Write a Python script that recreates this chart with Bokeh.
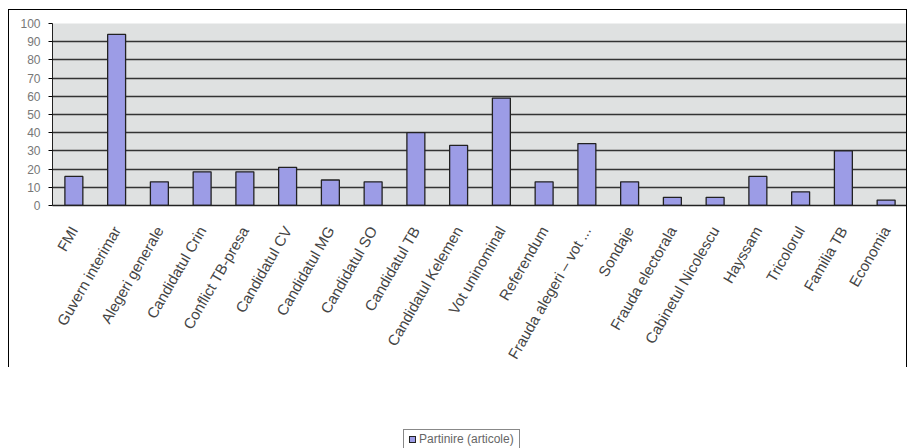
import math
from bokeh.plotting import figure
from bokeh.layouts import column
from bokeh.models import ColumnDataSource, Range1d, FixedTicker, Div
from bokeh.embed import file_html
from bokeh.resources import INLINE

categories = [
    "FMI", "Guvern interimar", "Alegeri generale", "Candidatul Crin",
    "Conflict TB-presa", "Candidatul CV", "Candidatul MG", "Candidatul SO",
    "Candidatul TB", "Candidatul Kelemen", "Vot uninominal", "Referendum",
    "Frauda alegeri – vot ...", "Sondaje", "Frauda electorala",
    "Cabinetul Nicolescu", "Hayssam", "Tricolorul", "Familia TB", "Economia",
]
values = [16, 94, 13, 18.5, 18.5, 21, 14, 13, 40, 33, 59, 13, 34, 13, 4.5, 4.5, 16, 7.5, 30, 3]
series_name = "Partinire (articole)"
y_ticks = [0, 10, 20, 30, 40, 50, 60, 70, 80, 90, 100]

bar_fill = "#9c9ce6"
bar_line = "#222222"

source = ColumnDataSource(data=dict(cat=categories, val=values))

p = figure(
    x_range=categories,
    y_range=Range1d(0, 100),
    frame_width=853, frame_height=181,
    output_backend="svg", toolbar_location=None,
    min_border_left=43, min_border_top=13, min_border_right=1, min_border_bottom=0,
    background_fill_color="#dfe1e1",
    border_fill_color="white",
    outline_line_color=None,
    styles={"border-top": "1px solid #000", "border-left": "1px solid #000",
            "border-right": "1px solid #000"},
    margin=(9, 0, 0, 8),
)

r = p.vbar(x="cat", top="val", width=0.42, source=source,
           fill_color=bar_fill, line_color=bar_line, line_width=1.3)

p.xgrid.grid_line_color = None
p.ygrid.grid_line_color = "#333333"
p.ygrid.grid_line_width = 1.4
p.ygrid.bounds = (0, 60)

p.yaxis.ticker = FixedTicker(ticks=y_ticks)
p.yaxis.minor_tick_line_color = None
p.yaxis.major_tick_in = 0
p.yaxis.major_tick_out = 4
p.yaxis.axis_line_color = "#222222"
p.yaxis.major_label_text_font = "Liberation Sans"
p.yaxis.major_label_text_font_size = "12px"
p.yaxis.major_label_text_color = "#777777"
p.yaxis.major_label_standoff = 8

p.xaxis.major_label_orientation = math.pi / 3
p.xaxis.major_label_text_font = "Liberation Sans"
p.xaxis.major_label_text_font_size = "15px"
p.xaxis.major_label_text_color = "#444444"
p.xaxis.major_tick_line_color = None
p.xaxis.axis_line_color = "#222222"
p.xaxis.axis_line_width = 1.4
p.xaxis.major_label_standoff = 16

legend_html = (
    '<div style="border:1px solid #888;background:#fff;padding:2px 5px;'
    'font-family:\'Liberation Sans\';font-size:12px;color:#666;white-space:nowrap;'
    'line-height:14px">'
    f'<span style="display:inline-block;width:7px;height:7px;background:{bar_fill};'
    f'border:1px solid {bar_line};margin-right:3px;vertical-align:middle"></span>'
    f'{series_name}</div>'
)
legend_div = Div(text=legend_html,
                 styles={"position": "absolute", "top": "424px", "left": "398px",
                         "z-index": "10"})

layout = column(p, legend_div)

open("out.html", "w").write(file_html(layout, INLINE))
